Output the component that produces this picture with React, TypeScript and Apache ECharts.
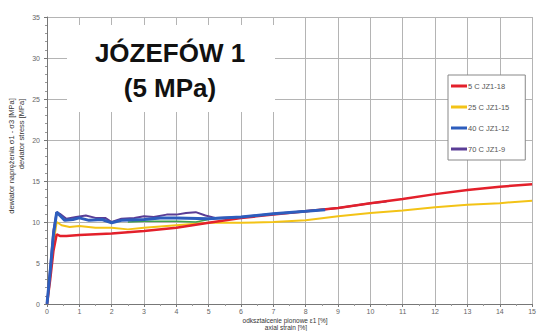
import React, { useEffect, useRef } from "react";
import * as echarts from "echarts";

const xTicks = [0, 15];
const yTicks = [0, 35];

const redName = "5 C JZ1-18";
const redStrain = [0, 0.1, 0.2, 0.3, 0.4, 0.6, 1, 2, 3, 4, 5, 6, 7, 8, 9, 10, 11, 12, 13, 14, 15];
const redStress = [0, 3, 6.5, 8.5, 8.3, 8.3, 8.4, 8.6, 8.9, 9.3, 9.9, 10.5, 10.9, 11.3, 11.7, 12.3, 12.8, 13.4, 13.9, 14.3, 14.6];

const yellowName = "25 C JZ1-15";
const yellowStrain = [0, 0.1, 0.2, 0.3, 0.45, 0.7, 1, 1.5, 2, 2.5, 3, 4, 5, 6, 7, 8, 9, 10, 11, 12, 13, 14, 15];
const yellowStress = [0, 3.5, 7.5, 10, 9.6, 9.4, 9.5, 9.3, 9.3, 9.1, 9.3, 9.6, 9.9, 9.9, 10.0, 10.2, 10.7, 11.1, 11.4, 11.8, 12.1, 12.3, 12.6];

const blueName = "40 C JZ1-12";
const blueStrain = [0, 0.1, 0.2, 0.3, 0.4, 0.55, 0.8, 1, 1.3, 1.7, 2, 2.3, 3, 3.5, 4, 5, 6, 7, 8, 8.6];
const blueStress = [0, 4, 8.5, 11.2, 10.8, 10.2, 10.3, 10.5, 10.2, 10.3, 9.9, 10.2, 10.3, 10.5, 10.5, 10.4, 10.6, 11.0, 11.3, 11.5];

const purpleName = "70 C JZ1-9";
const purpleStrain = [0, 0.1, 0.2, 0.3, 0.4, 0.6, 0.9, 1.2, 1.5, 1.8, 2, 2.3, 2.7, 3, 3.3, 3.7, 4, 4.3, 4.6, 4.9, 5.2, 6, 7, 8, 9, 10, 10.5];
const purpleStress = [0, 4.5, 9, 11.2, 11.0, 10.4, 10.6, 10.8, 10.5, 10.5, 10.0, 10.4, 10.5, 10.7, 10.6, 10.9, 10.9, 11.1, 11.2, 10.8, 10.5, 10.6, 11.0, 11.3, 11.7, 12.3, 12.5];

const greenStrain = [2.5, 3, 3.5, 4, 4.6, 5];
const greenStress = [10.0, 10.1, 10.1, 10.1, 10.0, 10.3];

const titleLines = ["JÓZEFÓW 1", "(5 MPa)"];
const xTitle = ["odkształcenie pionowe ε1 [%]", "axial strain [%]"];
const yTitle = ["dewiator naprężenia σ1 - σ3 [MPa]", "deviator stress [MPa]"];

const zip = (a: number[], b: number[]) => a.map((v, i) => [v, b[i]]);

export default function App() {
  const ref = useRef<HTMLDivElement>(null);
  useEffect(() => {
    if (!ref.current) return;
    const chart = echarts.init(ref.current, undefined, { renderer: "svg" });
    const mk = (name: string, xs: number[], ys: number[], color: string, width: number, z: number) => ({
      name,
      type: "line",
      data: zip(xs, ys),
      showSymbol: false,
      symbol: "none",
      z,
      lineStyle: { color, width },
      itemStyle: { color },
    });
    chart.setOption({
      animation: false,
      backgroundColor: "#fff",
      grid: { left: 47, right: 6, top: 17, bottom: 27, containLabel: false },
      xAxis: {
        type: "value",
        min: xTicks[0],
        max: xTicks[1],
        interval: 1,
        axisLine: { show: true, onZero: false, lineStyle: { color: "#777", width: 1 } },
        axisTick: { show: true, length: 3, lineStyle: { color: "#777" } },
        minorTick: { show: true, splitNumber: 2, length: 2, lineStyle: { color: "#999" } },
        axisLabel: { color: "#666", fontSize: 7, margin: 4, fontFamily: "Liberation Sans" },
        splitLine: { show: true, lineStyle: { color: "#b4b4b4", width: 1 } },
      },
      yAxis: {
        type: "value",
        min: yTicks[0],
        max: yTicks[1],
        interval: 5,
        axisLine: { show: true, onZero: false, lineStyle: { color: "#777", width: 1 } },
        axisTick: { show: true, length: 3, lineStyle: { color: "#777" } },
        minorTick: { show: true, splitNumber: 5, length: 2, lineStyle: { color: "#999" } },
        axisLabel: { color: "#666", fontSize: 7, margin: 7, fontFamily: "Liberation Sans" },
        splitLine: { show: true, lineStyle: { color: "#b4b4b4", width: 1 } },
      },
      legend: {
        orient: "vertical",
        left: 448,
        top: 75,
        data: [redName, yellowName, blueName, purpleName],
        backgroundColor: "#fff",
        borderColor: "#888",
        borderWidth: 1,
        padding: [7, 16, 7, 3],
        itemGap: 13,
        itemWidth: 16,
        itemHeight: 3,
        icon: "rect",
        textStyle: { fontSize: 7.5, color: "#555", fontFamily: "Liberation Sans", padding: [0, 0, 0, -4] },
      },
      series: [
        mk(yellowName, yellowStrain, yellowStress, "#f3c316", 2, 2),
        mk("green", greenStrain, greenStress, "#3fa34a", 1.5, 2),
        mk(purpleName, purpleStrain, purpleStress, "#5a3d96", 2, 3),
        mk(redName, redStrain, redStress, "#e3202b", 2.5, 4),
        mk(blueName, blueStrain, blueStress, "#2d5dbd", 3, 5),
      ],
      graphic: [
        { type: "rect", shape: { x: 67, y: 25, width: 208, height: 87 }, style: { fill: "#fff" }, z: 100 },
        {
          type: "text", x: 170, y: 53, z: 101,
          style: { text: titleLines[0], fill: "#111", font: "bold 26px 'Liberation Sans'", textAlign: "center", textVerticalAlign: "middle" },
        },
        {
          type: "text", x: 170, y: 88, z: 101,
          style: { text: titleLines[1], fill: "#111", font: "bold 26px 'Liberation Sans'", textAlign: "center", textVerticalAlign: "middle" },
        },
        {
          type: "text", x: 285, y: 320.5, z: 101,
          style: { text: xTitle[0], fill: "#333", font: "6.5px 'Liberation Sans'", textAlign: "center", textVerticalAlign: "middle" },
        },
        {
          type: "text", x: 286, y: 327.5, z: 101,
          style: { text: xTitle[1], fill: "#333", font: "6.5px 'Liberation Sans'", textAlign: "center", textVerticalAlign: "middle" },
        },
        {
          type: "text", x: 11, y: 156, rotation: Math.PI / 2, z: 101,
          style: { text: yTitle[0], fill: "#333", font: "7.5px 'Liberation Sans'", textAlign: "center", textVerticalAlign: "middle" },
        },
        {
          type: "text", x: 21, y: 134, rotation: Math.PI / 2, z: 101,
          style: { text: yTitle[1], fill: "#333", font: "7.5px 'Liberation Sans'", textAlign: "center", textVerticalAlign: "middle" },
        },
      ],
    });
    return () => chart.dispose();
  }, []);
  return <div ref={ref} style={{ width: 539, height: 331, position: "absolute", left: 0, top: 0 }} />;
}
